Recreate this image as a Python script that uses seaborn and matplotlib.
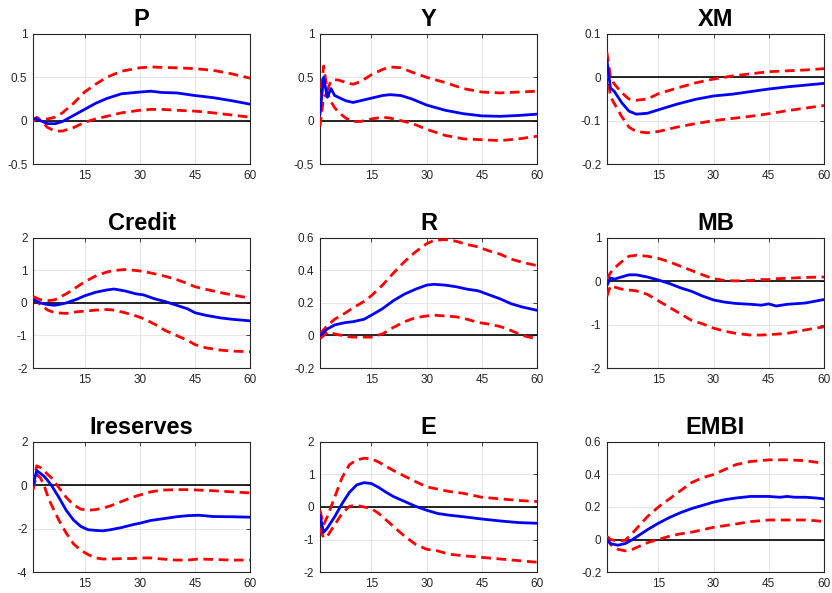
import numpy as np
import pandas as pd
import matplotlib
matplotlib.use('Agg')
import matplotlib.pyplot as plt
import seaborn as sns

# Impulse responses: median (mid) with lower / upper bands

P_x = [1, 2, 3, 5, 7, 9, 12, 15, 18, 21, 25, 30, 33, 36, 40, 45, 50, 55, 60]
P_mid = [0.02, 0.02, 0.0, -0.035, -0.035, -0.01, 0.06, 0.13, 0.2, 0.255, 0.31, 0.33, 0.34, 0.325, 0.32, 0.29, 0.265, 0.23, 0.19]
P_hi = [0.0, 0.04, 0.01, 0.02, 0.04, 0.09, 0.2, 0.33, 0.42, 0.5, 0.57, 0.61, 0.62, 0.615, 0.61, 0.6, 0.58, 0.54, 0.49]
P_lo = [-0.01, 0.03, 0.0, -0.08, -0.12, -0.12, -0.08, -0.02, 0.02, 0.05, 0.09, 0.12, 0.13, 0.13, 0.12, 0.11, 0.09, 0.065, 0.04]

Y_x = [1, 2, 3, 4, 5, 6, 8, 10, 12, 15, 18, 20, 23, 26, 30, 35, 40, 45, 50, 55, 60]
Y_mid = [0.07, 0.5, 0.27, 0.37, 0.29, 0.27, 0.23, 0.21, 0.23, 0.26, 0.29, 0.3, 0.29, 0.25, 0.18, 0.12, 0.08, 0.055, 0.05, 0.06, 0.075]
Y_hi = [0.2, 0.63, 0.35, 0.46, 0.47, 0.47, 0.44, 0.42, 0.45, 0.53, 0.59, 0.62, 0.61, 0.56, 0.5, 0.44, 0.37, 0.33, 0.32, 0.33, 0.34]
Y_lo = [-0.07, 0.27, 0.32, 0.22, 0.15, 0.1, 0.03, -0.01, -0.01, 0.02, 0.04, 0.03, 0.0, -0.03, -0.1, -0.17, -0.21, -0.22, -0.23, -0.21, -0.18]

XM_x = [1, 2, 3, 5, 7, 9, 12, 15, 20, 25, 30, 35, 40, 45, 50, 55, 60]
XM_mid = [0.04, -0.025, -0.032, -0.058, -0.078, -0.085, -0.083, -0.075, -0.062, -0.051, -0.043, -0.039, -0.033, -0.027, -0.022, -0.018, -0.014]
XM_hi = [0.058, 0.0, -0.015, -0.035, -0.05, -0.053, -0.05, -0.038, -0.025, -0.013, -0.004, 0.003, 0.008, 0.013, 0.015, 0.017, 0.02]
XM_lo = [0.02, -0.045, -0.06, -0.09, -0.115, -0.125, -0.128, -0.125, -0.115, -0.107, -0.1, -0.095, -0.09, -0.084, -0.077, -0.071, -0.065]

Credit_x = [1, 3, 5, 7, 10, 13, 15, 18, 21, 23, 26, 29, 31, 34, 37, 40, 43, 45, 48, 52, 55, 60]
Credit_mid = [0.1, 0.0, -0.05, -0.07, 0.0, 0.12, 0.22, 0.33, 0.4, 0.43, 0.37, 0.28, 0.25, 0.13, 0.04, -0.07, -0.18, -0.3, -0.38, -0.46, -0.5, -0.55]
Credit_hi = [0.2, 0.1, 0.07, 0.1, 0.28, 0.5, 0.65, 0.83, 0.95, 1.0, 1.03, 1.0, 0.97, 0.9, 0.82, 0.72, 0.6, 0.5, 0.42, 0.32, 0.25, 0.15]
Credit_lo = [0.15, -0.05, -0.22, -0.3, -0.32, -0.27, -0.25, -0.22, -0.2, -0.22, -0.3, -0.4, -0.48, -0.65, -0.85, -1.0, -1.15, -1.28, -1.38, -1.45, -1.48, -1.5]

R_x = [1, 3, 5, 8, 10, 13, 15, 18, 21, 24, 27, 30, 32, 35, 38, 41, 44, 47, 50, 53, 56, 60]
R_mid = [0.0, 0.04, 0.065, 0.08, 0.085, 0.1, 0.125, 0.165, 0.215, 0.255, 0.285, 0.31, 0.315, 0.31, 0.3, 0.285, 0.275, 0.25, 0.225, 0.195, 0.175, 0.155]
R_hi = [0.01, 0.06, 0.1, 0.14, 0.17, 0.21, 0.245, 0.31, 0.385, 0.455, 0.515, 0.565, 0.585, 0.59, 0.58, 0.56, 0.545, 0.52, 0.5, 0.47, 0.45, 0.43]
R_lo = [-0.02, 0.02, 0.01, -0.005, -0.01, -0.01, -0.01, 0.01, 0.05, 0.085, 0.11, 0.12, 0.125, 0.12, 0.115, 0.1, 0.08, 0.07, 0.055, 0.03, 0.0, -0.02]

MB_x = [1, 2, 3, 5, 7, 9, 12, 15, 18, 21, 24, 27, 30, 33, 36, 40, 43, 45, 47, 50, 55, 60]
MB_mid = [-0.1, 0.08, 0.05, 0.1, 0.15, 0.15, 0.1, 0.03, -0.05, -0.15, -0.23, -0.34, -0.43, -0.48, -0.51, -0.53, -0.55, -0.52, -0.57, -0.53, -0.5, -0.42]
MB_hi = [0.05, 0.2, 0.3, 0.45, 0.58, 0.6, 0.58, 0.53, 0.45, 0.35, 0.25, 0.15, 0.06, 0.02, 0.01, 0.02, 0.04, 0.04, 0.06, 0.07, 0.09, 0.1]
MB_lo = [-0.35, -0.1, -0.13, -0.18, -0.2, -0.22, -0.3, -0.45, -0.6, -0.75, -0.9, -0.98, -1.08, -1.15, -1.2, -1.24, -1.24, -1.23, -1.22, -1.2, -1.12, -1.05]

Ires_x = [1, 2, 3, 4, 5, 6, 8, 10, 12, 14, 16, 18, 20, 22, 25, 28, 30, 33, 36, 40, 43, 46, 50, 55, 60]
Ires_mid = [0.0, 0.68, 0.55, 0.42, 0.22, 0.0, -0.55, -1.15, -1.6, -1.9, -2.05, -2.08, -2.1, -2.05, -1.95, -1.82, -1.75, -1.62, -1.55, -1.45, -1.4, -1.38, -1.44, -1.45, -1.47]
Ires_hi = [0.0, 0.9, 0.82, 0.68, 0.5, 0.35, -0.1, -0.55, -0.9, -1.1, -1.15, -1.12, -1.05, -0.95, -0.75, -0.55, -0.45, -0.3, -0.22, -0.2, -0.2, -0.22, -0.25, -0.3, -0.35]
Ires_lo = [-0.2, 0.5, 0.35, 0.0, -0.5, -0.9, -1.6, -2.2, -2.7, -3.0, -3.2, -3.35, -3.4, -3.4, -3.38, -3.38, -3.35, -3.35, -3.4, -3.45, -3.45, -3.4, -3.42, -3.45, -3.45]

E_x = [1, 2, 3, 5, 7, 9, 11, 13, 15, 17, 19, 21, 24, 27, 30, 33, 36, 40, 45, 50, 55, 60]
E_mid = [-0.25, -0.78, -0.65, -0.3, 0.1, 0.45, 0.68, 0.75, 0.72, 0.6, 0.45, 0.32, 0.17, 0.02, -0.1, -0.2, -0.25, -0.3, -0.37, -0.43, -0.48, -0.5]
E_hi = [-0.1, -0.55, -0.3, 0.3, 0.9, 1.3, 1.45, 1.5, 1.48, 1.38, 1.25, 1.12, 0.95, 0.78, 0.62, 0.55, 0.48, 0.42, 0.3, 0.25, 0.2, 0.17]
E_lo = [-0.65, -0.95, -0.9, -0.55, -0.2, 0.02, 0.05, 0.0, -0.05, -0.2, -0.4, -0.6, -0.9, -1.15, -1.3, -1.35, -1.45, -1.5, -1.55, -1.6, -1.65, -1.7]

EMBI_x = [1, 2, 4, 6, 8, 10, 12, 15, 18, 21, 24, 27, 30, 33, 36, 40, 45, 48, 50, 52, 55, 58, 60]
EMBI_mid = [0.0, -0.025, -0.035, -0.025, 0.0, 0.03, 0.06, 0.1, 0.135, 0.165, 0.19, 0.21, 0.23, 0.245, 0.255, 0.265, 0.265, 0.26, 0.265, 0.26, 0.26, 0.255, 0.25]
EMBI_hi = [0.02, 0.0, -0.01, -0.005, 0.04, 0.09, 0.14, 0.2, 0.25, 0.3, 0.35, 0.38, 0.4, 0.43, 0.46, 0.48, 0.49, 0.49, 0.49, 0.488, 0.485, 0.475, 0.47]
EMBI_lo = [0.01, -0.03, -0.06, -0.07, -0.06, -0.04, -0.02, 0.0, 0.02, 0.035, 0.045, 0.06, 0.075, 0.085, 0.095, 0.11, 0.12, 0.12, 0.12, 0.12, 0.12, 0.115, 0.11]

titles = ['P', 'Y', 'XM', 'Credit', 'R', 'MB', 'Ireserves', 'E', 'EMBI']
series = [
    (P_x, P_mid, P_lo, P_hi),
    (Y_x, Y_mid, Y_lo, Y_hi),
    (XM_x, XM_mid, XM_lo, XM_hi),
    (Credit_x, Credit_mid, Credit_lo, Credit_hi),
    (R_x, R_mid, R_lo, R_hi),
    (MB_x, MB_mid, MB_lo, MB_hi),
    (Ires_x, Ires_mid, Ires_lo, Ires_hi),
    (E_x, E_mid, E_lo, E_hi),
    (EMBI_x, EMBI_mid, EMBI_lo, EMBI_hi),
]
yticks = [
    [-0.5, 0, 0.5, 1], [-0.5, 0, 0.5, 1], [-0.2, -0.1, 0, 0.1],
    [-2, -1, 0, 1, 2], [-0.2, 0, 0.2, 0.4, 0.6], [-2, -1, 0, 1],
    [-4, -2, 0, 2], [-2, -1, 0, 1, 2], [-0.2, 0, 0.2, 0.4, 0.6],
]
xticks = [15, 30, 45, 60]

sns.set_theme(style='white')
plt.rcParams['font.family'] = ['Liberation Sans', 'DejaVu Sans']
plt.rcParams['axes.unicode_minus'] = False

fig, axes = plt.subplots(3, 3, figsize=(8.32, 5.93), dpi=100)
fig.subplots_adjust(left=0.0397, right=0.9904, bottom=0.0354, top=0.9427,
                    wspace=0.321, hspace=0.569)

dark = '#262626'
for ax, title, (x, mid, lo, hi), yt in zip(axes.flat, titles, series, yticks):
    df = pd.DataFrame({'h': x, 'mid': mid, 'lo': lo, 'hi': hi})
    ax.axhline(0, color='black', lw=1.2, zorder=2)
    for col in ['lo', 'hi']:
        sns.lineplot(data=df, x='h', y=col, ax=ax, color='red', lw=2,
                     linestyle=(0, (3.5, 2)), zorder=3)
    sns.lineplot(data=df, x='h', y='mid', ax=ax, color='blue', lw=2, zorder=4)

    ax.set_xlim(1, 60)
    ax.set_ylim(yt[0], yt[-1])
    ax.set_xticks(xticks)
    ax.set_xticklabels([f'{t:g}' for t in xticks])
    ax.set_yticks(yt)
    ax.set_yticklabels([f'{t:g}' for t in yt])
    ax.grid(True, color='#e6e6e6', lw=0.8)
    ax.set_axisbelow(True)
    ax.set_xlabel('')
    ax.set_ylabel('')
    ax.set_title(title, fontsize=17, fontweight='bold', color='black', pad=6)
    ax.tick_params(direction='in', length=3, width=0.6, colors=dark,
                   labelsize=8.5, pad=4, top=True, right=True)
    for sp in ax.spines.values():
        sp.set_color(dark)
        sp.set_linewidth(0.8)

fig.savefig('out.png', dpi=100)
